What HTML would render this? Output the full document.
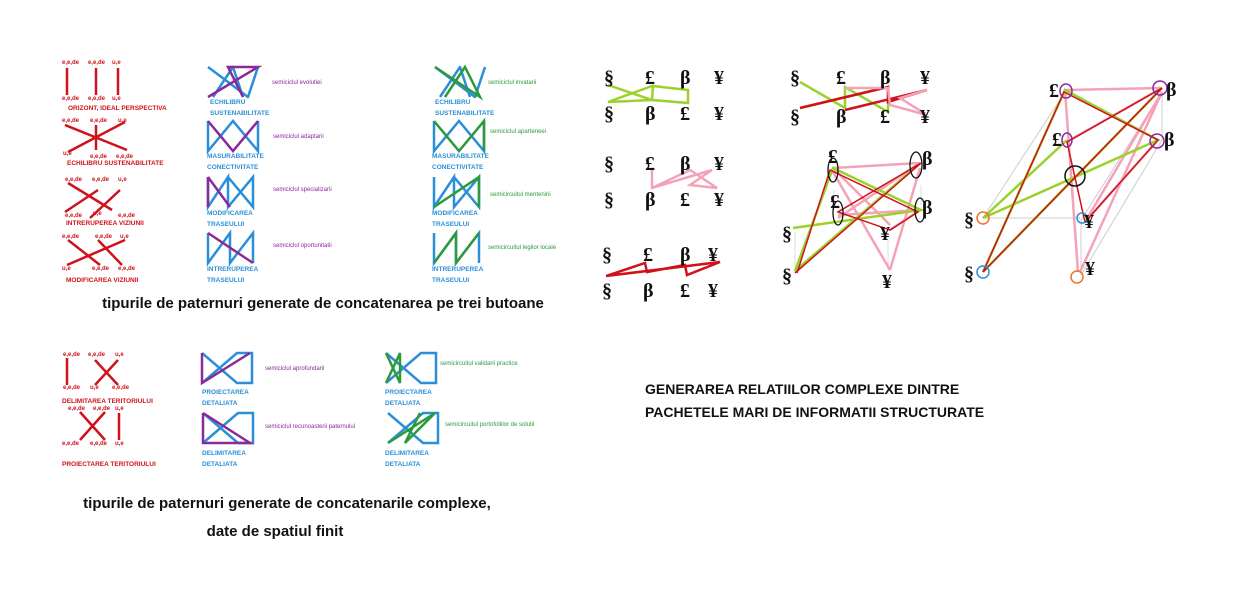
<!DOCTYPE html>
<html><head><meta charset="utf-8"><style>
html,body{margin:0;padding:0;background:#fff}
svg{display:block}
.t{font-family:"Liberation Sans",sans-serif}
.s{font-family:"Liberation Serif",serif;font-weight:bold;font-size:20px;fill:#111}
.r{fill:#d0111b;font-size:6px;font-family:"Liberation Sans",sans-serif;font-weight:bold}
.rc{fill:#d0111b;font-size:6.5px;font-family:"Liberation Sans",sans-serif;font-weight:bold}
.bl{fill:#2a8fd8;font-size:6.5px;font-family:"Liberation Sans",sans-serif;font-weight:bold}
.pu{fill:#8a2a9a;font-size:6px;font-family:"Liberation Sans",sans-serif}
.gr{fill:#2a9a3a;font-size:6px;font-family:"Liberation Sans",sans-serif}
</style></head><body>
<svg width="1247" height="604" viewBox="0 0 1247 604" xmlns="http://www.w3.org/2000/svg">
<defs>
<g id="A" fill="none" stroke-width="2.5" stroke-linejoin="round">
 <polyline stroke="#2a8fd8" points="0,0 40,30 50,0"/>
 <polyline stroke="#2a8fd8" points="5,30 25,0 35,30"/>
</g>
<g id="B" fill="none" stroke-width="2.5"><polyline stroke="#2a8fd8" points="0,0 0,30 25,0 50,30 50,0"/></g>
<g id="C" fill="none" stroke-width="2.5"><polyline stroke="#2a8fd8" points="0,0 0,30 20,0 20,30 45,0 45,30 20,0"/></g>
<g id="D" fill="none" stroke-width="2.5"><polyline stroke="#2a8fd8" points="0,0 0,30 22,0 22,30 45,0 45,30"/></g>
<g id="E" fill="none" stroke-width="2.5"><polyline stroke="#2a8fd8" points="0,0 35,30 50,30 50,0 35,0 0,30"/></g>
</defs>

<!-- left red column -->
<g stroke="#d0111b" stroke-width="2.5" fill="none">
 <line x1="67" y1="68" x2="67" y2="95"/><line x1="96" y1="68" x2="96" y2="95"/><line x1="118" y1="68" x2="118" y2="95"/>
 <line x1="65" y1="125" x2="127" y2="150"/><line x1="68" y1="152" x2="125" y2="122"/><line x1="96" y1="125" x2="96" y2="150"/>
 <line x1="68" y1="183" x2="112" y2="210"/><line x1="65" y1="212" x2="98" y2="190"/><line x1="90" y1="218" x2="120" y2="190"/>
 <line x1="68" y1="240" x2="100" y2="265"/><line x1="67" y1="265" x2="125" y2="240"/><line x1="98" y1="240" x2="122" y2="265"/>
 <line x1="67" y1="358" x2="67" y2="385"/><line x1="95" y1="360" x2="118" y2="385"/><line x1="95" y1="385" x2="118" y2="360"/>
 <line x1="80" y1="412" x2="105" y2="440"/><line x1="80" y1="440" x2="105" y2="412"/><line x1="119" y1="413" x2="119" y2="440"/>
</g>
<g class="r">
 <text x="62" y="64">e,e,de</text><text x="88" y="64">e,e,de</text><text x="112" y="64">u,e</text>
 <text x="62" y="100">e,e,de</text><text x="88" y="100">e,e,de</text><text x="112" y="100">u,e</text>
 <text x="62" y="122">e,e,de</text><text x="90" y="122">e,e,de</text><text x="118" y="122">u,e</text>
 <text x="63" y="155">u,e</text><text x="90" y="158">e,e,de</text><text x="116" y="158">e,e,de</text>
 <text x="65" y="181">e,e,de</text><text x="92" y="181">e,e,de</text><text x="118" y="181">u,e</text>
 <text x="65" y="217">e,e,de</text><text x="93" y="215">u,e</text><text x="118" y="217">e,e,de</text>
 <text x="62" y="238">e,e,de</text><text x="95" y="238">e,e,de</text><text x="120" y="238">u,e</text>
 <text x="62" y="270">u,e</text><text x="92" y="270">e,e,de</text><text x="118" y="270">e,e,de</text>
 <text x="63" y="356">e,e,de</text><text x="88" y="356">e,e,de</text><text x="115" y="356">u,e</text>
 <text x="63" y="389">e,e,de</text><text x="90" y="389">u,e</text><text x="112" y="389">e,e,de</text>
 <text x="68" y="410">e,e,de</text><text x="93" y="410">e,e,de</text><text x="115" y="410">u,e</text>
 <text x="62" y="445">e,e,de</text><text x="90" y="445">e,e,de</text><text x="115" y="445">u,e</text>
</g>
<g class="rc">
 <text x="68" y="110">ORIZONT, IDEAL  PERSPECTIVA</text>
 <text x="67" y="165">ECHILIBRU  SUSTENABILITATE</text>
 <text x="66" y="225">INTRERUPEREA  VIZIUNII</text>
 <text x="66" y="282">MODIFICAREA  VIZIUNII</text>
 <text x="62" y="403">DELIMITAREA  TERITORIULUI</text>
 <text x="62" y="466">PROIECTAREA  TERITORIULUI</text>
</g>

<!-- middle purple column -->
<use href="#A" x="208" y="67"/><polyline points="208,97 258,67 228,67 243,97" fill="none" stroke="#8a2a9a" stroke-width="2.5"/>
<use href="#B" x="208" y="121"/><polyline points="208,121 233,151 258,121" fill="none" stroke="#8a2a9a" stroke-width="2.5"/>
<use href="#C" x="208" y="177"/><polyline points="208,177 230,207" fill="none" stroke="#8a2a9a" stroke-width="2.5"/><polyline points="208,177 208,207" fill="none" stroke="#8a2a9a" stroke-width="2.5"/>
<use href="#D" x="208" y="233"/><polyline points="208,233 253,263" fill="none" stroke="#8a2a9a" stroke-width="2.5"/>
<use href="#E" x="202" y="353"/><polyline points="202,353 202,383 250,353" fill="none" stroke="#8a2a9a" stroke-width="2.5"/>
<use href="#E" x="203" y="413"/><polyline points="203,413 203,443 250,443 203,413" fill="none" stroke="#8a2a9a" stroke-width="2.5"/>

<g class="bl">
 <text x="210" y="104">ECHILIBRU</text><text x="210" y="115">SUSTENABILITATE</text>
 <text x="207" y="158">MASURABILITATE</text><text x="207" y="169">CONECTIVITATE</text>
 <text x="207" y="215">MODIFICAREA</text><text x="207" y="226">TRASEULUI</text>
 <text x="207" y="271">INTRERUPEREA</text><text x="207" y="282">TRASEULUI</text>
 <text x="202" y="394">PROIECTAREA</text><text x="202" y="405">DETALIATA</text>
 <text x="202" y="455">DELIMITAREA</text><text x="202" y="466">DETALIATA</text>
 <text x="435" y="104">ECHILIBRU</text><text x="435" y="115">SUSTENABILITATE</text>
 <text x="432" y="158">MASURABILITATE</text><text x="432" y="169">CONECTIVITATE</text>
 <text x="432" y="215">MODIFICAREA</text><text x="432" y="226">TRASEULUI</text>
 <text x="432" y="271">INTRERUPEREA</text><text x="432" y="282">TRASEULUI</text>
 <text x="385" y="394">PROIECTAREA</text><text x="385" y="405">DETALIATA</text>
 <text x="385" y="455">DELIMITAREA</text><text x="385" y="466">DETALIATA</text>
</g>
<g class="pu">
 <text x="272" y="84">semiciclul evolutiei</text>
 <text x="273" y="138">semiciclul adaptarii</text>
 <text x="273" y="191">semiciclul specializarii</text>
 <text x="273" y="247">semiciclul oportunitatii</text>
 <text x="265" y="370">semiciclul aprofundarii</text>
 <text x="265" y="428">semiciclul recunoasterii paternului</text>
</g>

<!-- right green column -->
<use href="#A" x="435" y="67"/><polyline points="435,67 480,97 465,67 445,97" fill="none" stroke="#2a9a3a" stroke-width="2.5"/>
<use href="#B" x="434" y="121"/><polyline points="434,121 459,151 484,121 484,151" fill="none" stroke="#2a9a3a" stroke-width="2.5"/>
<use href="#C" x="434" y="177"/><polyline points="434,207 479,177 479,207" fill="none" stroke="#2a9a3a" stroke-width="2.5"/>
<use href="#D" x="434" y="233"/><polyline points="434,263 456,233 456,263 479,233" fill="none" stroke="#2a9a3a" stroke-width="2.5"/>
<use href="#E" x="386" y="353"/><polyline points="386,353 400,383 400,353 386,383" fill="none" stroke="#2a9a3a" stroke-width="2.5"/>
<use href="#E" x="388" y="413"/><polyline points="388,443 435,413 405,443 420,413" fill="none" stroke="#2a9a3a" stroke-width="2.5"/>
<g class="gr">
 <text x="488" y="84">semiciclul invatarii</text>
 <text x="490" y="133">semiciclul aparteneei</text>
 <text x="490" y="196">semicircuitul mentenirii</text>
 <text x="488" y="249">semicircuitul legilor locale</text>
 <text x="440" y="365">semicircuitul validarii practice</text>
 <text x="445" y="426">semicircuitul portofoliilor de solutii</text>
</g>

<text class="t" x="323" y="308" font-size="15" font-weight="bold" text-anchor="middle" fill="#111">tipurile de paternuri generate de concatenarea pe trei butoane</text>
<text class="t" x="287" y="508" font-size="15" font-weight="bold" text-anchor="middle" fill="#111">tipurile de paternuri generate de concatenarile complexe,</text>
<text class="t" x="275" y="536" font-size="15" font-weight="bold" text-anchor="middle" fill="#111">date de spatiul finit</text>
<text class="t" x="645" y="394" font-size="14" font-weight="bold" fill="#111">GENERAREA RELATIILOR COMPLEXE DINTRE</text>
<text class="t" x="645" y="417" font-size="14" font-weight="bold" fill="#111">PACHETELE MARI DE INFORMATII STRUCTURATE</text>

<!-- symbol grids -->
<g fill="none" stroke-width="2.5">
 <polyline stroke="#9bd12b" points="608,85 652,100 653,86 688,90 688,103 652,100 608,102 652,86"/>
 <polyline stroke="#f4a2b8" points="652,170 652,188 712,170 690,185 717,188 690,170 652,188"/>
 <polyline stroke="#d0111b" points="606,276 645,263 647,272 685,265 687,275 720,262 606,276"/>
 <polyline stroke="#9bd12b" points="800,82 845,108 845,87 888,112 888,87 800,108"/>
 <polyline stroke="#d0111b" points="800,108 888,87 888,102 927,90 845,110"/>
 <polyline stroke="#f4a2b8" points="845,88 888,88 890,105 927,115 900,98 927,90"/>
</g>
<g class="s">
 <text x="604" y="84">§</text><text x="645" y="84">£</text><text x="680" y="84">β</text><text x="714" y="84">¥</text>
 <text x="604" y="120">§</text><text x="645" y="120">β</text><text x="680" y="120">£</text><text x="714" y="120">¥</text>
 <text x="604" y="170">§</text><text x="645" y="170">£</text><text x="680" y="170">β</text><text x="714" y="170">¥</text>
 <text x="604" y="206">§</text><text x="645" y="206">β</text><text x="680" y="206">£</text><text x="714" y="206">¥</text>
 <text x="602" y="261">§</text><text x="643" y="261">£</text><text x="680" y="261">β</text><text x="708" y="261">¥</text>
 <text x="602" y="297">§</text><text x="643" y="297">β</text><text x="680" y="297">£</text><text x="708" y="297">¥</text>
 <text x="790" y="84">§</text><text x="836" y="84">£</text><text x="880" y="84">β</text><text x="920" y="84">¥</text>
 <text x="790" y="123">§</text><text x="836" y="123">β</text><text x="880" y="123">£</text><text x="920" y="123">¥</text>
</g>

<!-- network 1 -->
<g fill="none" stroke-width="2">
 <g stroke="#ddd" stroke-width="1"><line x1="795" y1="232" x2="795" y2="270"/><line x1="834" y1="190" x2="834" y2="210"/><line x1="921" y1="185" x2="921" y2="205"/><line x1="888" y1="240" x2="888" y2="270"/></g>
 <g stroke="#f4a2b8" stroke-width="2.5">
  <line x1="833" y1="168" x2="920" y2="163"/><line x1="833" y1="172" x2="890" y2="270"/><line x1="838" y1="218" x2="920" y2="163"/><line x1="838" y1="215" x2="921" y2="210"/><line x1="920" y1="168" x2="890" y2="270"/><line x1="890" y1="230" x2="920" y2="210"/><line x1="833" y1="168" x2="890" y2="225"/>
 </g>
 <g stroke="#9bd12b" stroke-width="2.5">
  <polyline points="795,271 833,168 921,210 793,228"/><line x1="795" y1="271" x2="918" y2="165"/>
 </g>
 <g stroke="#d0111b" stroke-width="1.5">
  <polyline points="797,273 830,170 918,212 890,230 838,212 921,163 795,273"/>
 </g>
 <g stroke="#111" stroke-width="1.3"><ellipse cx="833" cy="170" rx="5" ry="12"/><ellipse cx="838" cy="213" rx="5" ry="12"/><ellipse cx="916" cy="165" rx="6" ry="13"/><ellipse cx="920" cy="210" rx="5" ry="12"/></g>
</g>
<g class="s">
 <text x="828" y="163">£</text><text x="830" y="208">£</text><text x="922" y="165">β</text><text x="922" y="214">β</text>
 <text x="782" y="240">§</text><text x="782" y="282">§</text><text x="880" y="240">¥</text><text x="882" y="288">¥</text>
</g>

<!-- network 2 -->
<g fill="none">
 <g stroke="#ccc" stroke-width="1"><line x1="983" y1="218" x2="1080" y2="218"/><line x1="1081" y1="220" x2="1081" y2="275"/><line x1="1162" y1="92" x2="1162" y2="140"/><line x1="983" y1="218" x2="1065" y2="92"/><line x1="1081" y1="275" x2="1162" y2="140"/><line x1="1081" y1="220" x2="1162" y2="92"/></g>
 <g stroke="#f4a2b8" stroke-width="2.5">
  <line x1="1065" y1="90" x2="1162" y2="88"/><line x1="1065" y1="90" x2="1078" y2="272"/><line x1="1070" y1="140" x2="1162" y2="88"/><line x1="1162" y1="92" x2="1080" y2="272"/><line x1="1162" y1="92" x2="1085" y2="222"/><line x1="1158" y1="140" x2="1085" y2="222"/>
 </g>
 <g stroke="#9bd12b" stroke-width="2.5">
  <polyline points="983,272 1065,90 1158,140 983,218 1067,140"/><line x1="983" y1="272" x2="1162" y2="88"/>
 </g>
 <g stroke="#d0111b" stroke-width="1.5">
  <polyline points="983,272 1064,92 1158,140 1085,222 1067,142 1162,88 983,272"/>
 </g>
 <g stroke-width="1.5">
  <ellipse cx="1066" cy="91" rx="6" ry="7" stroke="#8a2a9a"/><ellipse cx="1160" cy="88" rx="7" ry="7" stroke="#8a2a9a"/>
  <ellipse cx="1067" cy="140" rx="5" ry="7" stroke="#8a2a9a"/><ellipse cx="1157" cy="141" rx="7" ry="7" stroke="#8a2a9a"/>
  <circle cx="983" cy="218" r="6" stroke="#f07030"/><circle cx="983" cy="272" r="6" stroke="#2a8fd8"/>
  <circle cx="1082" cy="218" r="5" stroke="#2a8fd8"/><circle cx="1077" cy="277" r="6" stroke="#f07030"/>
  <circle cx="1075" cy="176" r="10" stroke="#111"/>
 </g>
</g>
<g class="s">
 <text x="1049" y="97">£</text><text x="1166" y="96">β</text><text x="1052" y="146">£</text><text x="1164" y="146">β</text>
 <text x="964" y="226">§</text><text x="964" y="280">§</text><text x="1084" y="228">¥</text><text x="1085" y="275">¥</text>
</g>
</svg>
</body></html>
